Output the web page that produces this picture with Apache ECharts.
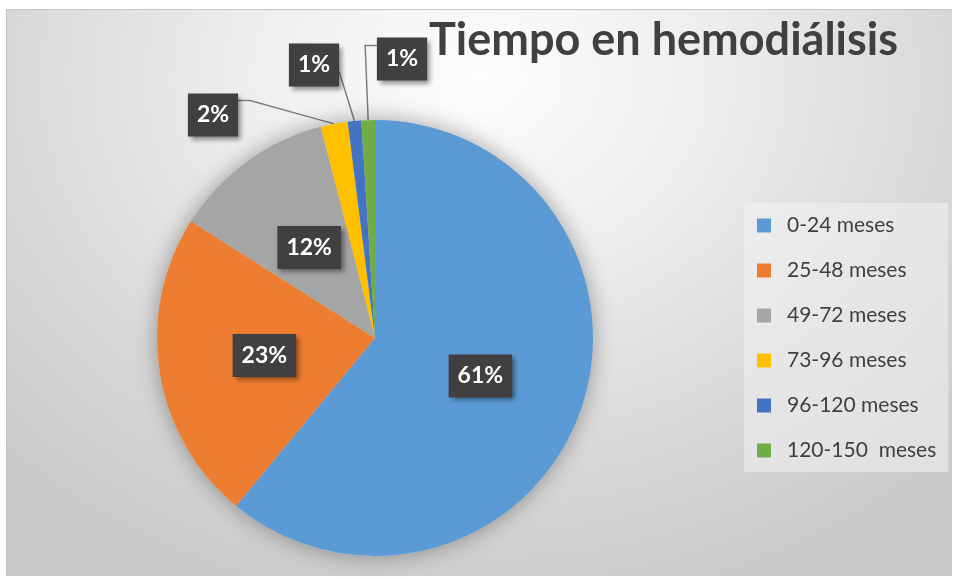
<!DOCTYPE html>
<html>
<head>
<meta charset="utf-8">
<script src="https://cdn.jsdelivr.net/npm/echarts@6/dist/echarts.min.js"></script>
<style>
	html, body {
		margin: 0;
		padding: 0;
		background: #fff;
	}
	/* 背景 */
	#bg {
		position: absolute;
		left: 6px;
		top: 9px;
		width: 945px;
		height: 566px;
		border-top: 1px solid #c9c9c9;
		border-left: 1px solid #c0c0c0;
		background: radial-gradient(ellipse 70% 95% at 50% 12%, #fdfdfd 0%, #eeeeee 35%, #d9d9d9 70%, #cacaca 100%);
	}
	#main {
		position: absolute;
		left: 0;
		top: 0;
		width: 958px;
		height: 579px;
	}
</style>
</head>
<body>
<div id="bg"></div>
<div id="main"></div>
<script>
// 数据
var categories = ['0-24 meses', '25-48 meses', '49-72 meses', '73-96 meses', '96-120 meses', '120-150  meses']
var percents = [61, 23, 12, 2, 1, 1]
var colors = ['#5B9BD5', '#ED7D31', '#A5A5A5', '#FFC000', '#4472C4', '#70AD47']

// 小扇区的标签位置 (标签中心)
var outsideLabelPos = { 3: [213, 115], 4: [314, 65], 5: [402, 59] }

var pieData = categories.map(function (name, i) {
	var inside = i < 3
	return {
		name: name,
		value: percents[i],
		itemStyle: { color: colors[i] },
		label: { position: inside ? 'inside' : 'outside' },
		labelLine: {
			show: !inside,
			length: 10,
			length2: 12,
			lineStyle: { color: '#7f7f7f', width: 1.5 },
		},
	}
})

var myChart = echarts.init(document.getElementById('main'))
myChart.setOption({
	backgroundColor: 'transparent',
	title: {
		text: 'Tiempo en hemodiálisis',
		left: 424,
		top: 13,
		textStyle: {
			fontFamily: 'Lato',
			fontSize: 45,
			fontWeight: 'bold',
			color: '#404040',
		},
	},
	legend: {
		orient: 'vertical',
		left: 744,
		top: 203,
		data: categories,
		itemWidth: 14,
		itemHeight: 14,
		itemGap: 24,
		icon: 'rect',
		backgroundColor: 'rgba(243,243,243,0.55)',
		padding: [12, 12, 11, 13],
		textStyle: {
			fontFamily: 'Lato',
			fontSize: 21,
			color: '#404040',
			padding: [0, 0, 0, 11],
		},
	},
	series: [
		{
			// 阴影
			type: 'pie',
			silent: true,
			center: [375, 338],
			radius: 218,
			label: { show: false },
			labelLine: { show: false },
			itemStyle: {
				color: '#cfcfcf',
				shadowBlur: 22,
				shadowColor: 'rgba(0,0,0,0.35)',
			},
			data: [{ name: 'sombra', value: 1 }],
		},
		{
			type: 'pie',
			center: [375, 338],
			radius: 218,
			startAngle: 90,
			clockwise: true,
			avoidLabelOverlap: false,
			label: {
				formatter: '{c}%',
				fontFamily: 'Lato',
				fontSize: 23,
				fontWeight: 'bold',
				color: '#fff',
				backgroundColor: '#404040',
				padding: [10, 9],
				shadowBlur: 5,
				shadowOffsetX: 3,
				shadowOffsetY: 3,
				shadowColor: 'rgba(0,0,0,0.45)',
			},
			labelLayout: function (params) {
				var pos = outsideLabelPos[params.dataIndex]
				if (!pos) return {}
				var a = params.labelLinePoints ? params.labelLinePoints[0] : null
				var w = params.labelRect.width
				var h = params.labelRect.height
				var left = pos[0] - w / 2
				var right = pos[0] + w / 2
				var top = pos[1] - h / 2
				var pts
				if (a) {
					if (params.dataIndex === 3) {
						pts = [a, [right + 12, top + 7], [right, top + 7]]
					} else if (params.dataIndex === 4) {
						pts = [a, [right, top + 28], [right, top + 28]]
					} else {
						pts = [a, [a[0] - 3, top + 8], [left, top + 8]]
					}
				}
				return {
					x: pos[0],
					y: pos[1],
					align: 'center',
					verticalAlign: 'middle',
					labelLinePoints: pts,
				}
			},
			data: pieData,
		},
	],
})
</script>
</body>
</html>
